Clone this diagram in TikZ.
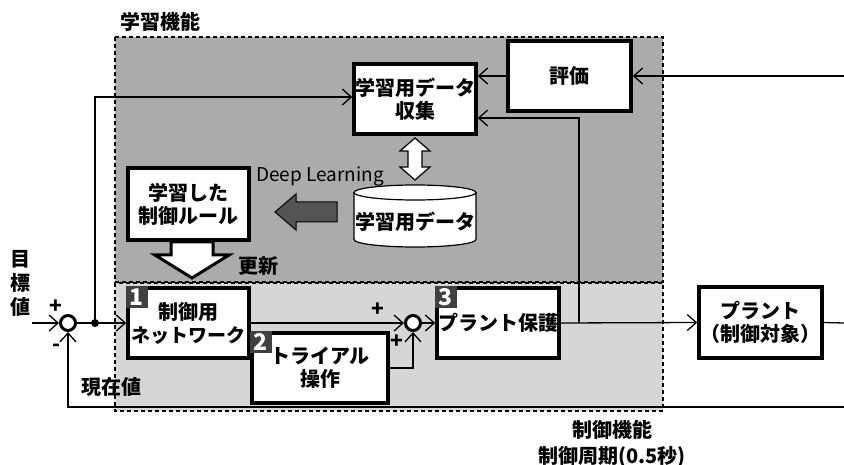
\documentclass[tikz,border=0pt]{standalone}
\usepackage{fontspec}
\setmainfont{Noto Sans CJK JP}
\usetikzlibrary{arrows.meta,calc}
\definecolor{darkbg}{gray}{0.67}
\definecolor{lightbg}{gray}{0.84}
\definecolor{badgecol}{gray}{0.25}
\definecolor{blockarrow}{gray}{0.33}
\begin{document}
\begin{tikzpicture}[x=1pt,y=-1pt,
  jp/.style={font=\fontsize{20}{23}\selectfont\bfseries},
  box/.style={draw, line width=3.5pt, fill=white, inner sep=0pt, align=center, jp},
  badge/.style={fill=badgecol, text=white, minimum size=22pt, inner sep=0pt, anchor=north west, font=\fontsize{23}{23}\selectfont\bfseries},
  region/.style={draw, dashed, dash pattern=on 4pt off 3pt, line width=1.2pt},
  sumj/.style={circle, draw, line width=3pt, minimum size=15pt, inner sep=0pt, fill=white},
  conn/.style={line width=1.3pt},
  arr/.style={conn, -{Straight Barb[length=9pt,width=16pt,line width=1.3pt]}},
  lbl/.style={jp, inner sep=0pt},
  sign/.style={font=\fontsize{21}{21}\selectfont\bfseries, inner sep=0pt}
]
\useasboundingbox (0,0) rectangle (844,465);
\fill[white] (0,0) rectangle (844,465);

% regions
\draw[region, fill=darkbg] (115,37) rectangle (663,282);
\draw[region, fill=lightbg] (115,283) rectangle (663,411);

% labels
\node[lbl] (lLearn) at (160,22) {学習機能};
\node[lbl] (lUpd) at (258,266) {更新};
\node[lbl, align=center, font=\fontsize{20}{24}\selectfont\bfseries] (lTarget) at (20,283) {目\\標\\値};
\node[lbl] (lCur) at (111,387) {現在値};
\node[lbl] (lCtrl) at (612,430) {制御機能};
\node[lbl] (lCyc) at (612,457) {制御周期(0.5秒)};
\node[inner sep=0pt, font=\fontsize{19}{19}\selectfont] (lDL) at (320,177) {Deep Learning};

% boxes
\node[box, minimum width=123pt, minimum height=70pt] (hyouka) at (569.5,76) {評価};
\node[box, minimum width=122pt, minimum height=70pt] (collect) at (415,99) {学習用データ\\収集};
\node[box, minimum width=121pt, minimum height=72pt] (rule) at (188.5,204) {学習した\\制御ルール};
\node[box, minimum width=121pt, minimum height=70pt, font=\fontsize{19}{23}\selectfont\bfseries] (net) at (188.5,323) {\fontsize{20}{23}\selectfont 制御用\\ネットワーク};
\node[box, minimum width=136pt, minimum height=70pt] (trial) at (320,368) {トライアル\\操作};
\node[box, minimum width=122pt, minimum height=70pt] (prot) at (498,323) {プラント保護};
\node[box, minimum width=123pt, minimum height=71pt] (plant) at (760.5,322.5) {プラント\\（制御対象）};

% badges
\node[badge] (b1) at ([shift={(-0.5pt,0.5pt)}]net.north west) {1};
\node[badge] (b2) at ([shift={(-0.5pt,0.5pt)}]trial.north west) {2};
\node[badge] (b3) at ([shift={(-0.5pt,0.5pt)}]prot.north west) {3};

% cylinder
\node[minimum width=122pt, minimum height=62pt, inner sep=0pt] (cyl) at (415,216) {};
\draw[line width=1.2pt, fill=white] (354,192.5) -- (354,239.5) arc[start angle=180, end angle=360, x radius=61pt, y radius=7.5pt] -- (476,192.5);
\draw[line width=1.2pt, fill=white] (415,192.5) ellipse[x radius=61pt, y radius=7.5pt];
\node[jp, inner sep=0pt] (cyltext) at (415,222) {学習用データ};

% block arrows
\draw[line width=1.2pt, fill=white] (415,138) -- (430,151) -- (422,151) -- (422,167) -- (430,167) -- (415,180) -- (400,167) -- (408,167) -- (408,151) -- (400,151) -- cycle;
\draw[line width=1pt, fill=blockarrow] (275,212) -- (296,194) -- (296,202) -- (337,202) -- (337,222) -- (296,222) -- (296,230) -- cycle;
\draw[line width=3pt, fill=white, line join=miter] (171,242) -- (213,242) -- (213,255) -- (229,255) -- (192,278) -- (155,255) -- (171,255) -- cycle;

% summing junctions
\node[sumj] (sum1) at (68,323) {};
\node[sumj] (sum2) at (413,323) {};

% coordinates
\coordinate (inp) at (32,323);
\coordinate (j1) at (95,323);
\coordinate (j2) at (579,323);
\coordinate (rin) at (844,76);
\coordinate (rout) at (844,323);
\coordinate (rfb) at (844,407);

% connectors
\draw[arr] (rin) -- (hyouka.east);
\draw[arr] (hyouka.west) -- (hyouka.west -| collect.east);
\draw[arr] (inp) -- (sum1.west);
\draw[arr] (sum1.east) -- (net.west);
\fill (j1) circle[radius=4pt];
\draw[arr] (j1) |- ([yshift=2pt]collect.west);
\draw[arr] (net.east) -- (sum2.west);
\draw[arr] (trial.east) -| (sum2.south);
\draw[arr] (sum2.east) -- (prot.west);
\draw[arr] (prot.east) -- (plant.west);
\draw[arr] (j2) |- ([yshift=-19pt]collect.east);
\draw[conn] (plant.east) -- (rout);
\draw[arr] (rfb) -| (sum1.south);

% signs
\node[sign] (s1) at (56,307) {+};
\node[sign] (s2) at (57,348) {-};
\node[sign] (s3) at (378,310) {+};
\node[sign] (s4) at (397,342) {+};
\end{tikzpicture}
\end{document}
